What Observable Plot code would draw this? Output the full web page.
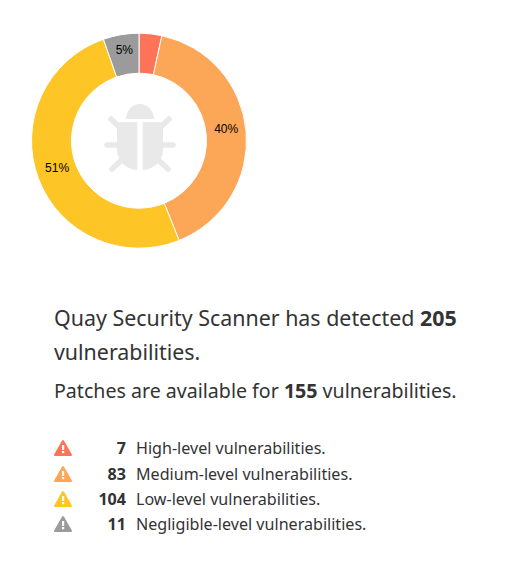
<!DOCTYPE html>
<html><head><meta charset="utf-8">
<script src="https://cdn.jsdelivr.net/npm/d3@7"></script>
<script src="https://cdn.jsdelivr.net/npm/@observablehq/plot@0.6"></script>
<style>
html,body{margin:0;padding:0;background:#fff}
body{width:509px;height:568px;overflow:hidden;position:relative;font-family:"Noto Sans",sans-serif;color:#333}
#chart{position:absolute;left:0;top:0}
.p{position:absolute;left:54px;white-space:nowrap}
.t{font-size:21.4px;line-height:34px;top:301px;width:420px;white-space:normal}
.s{font-size:19.6px;line-height:30px;top:376px}
.r{position:absolute;left:0;height:25px;line-height:25px;font-size:16.1px;white-space:nowrap}
.r svg{position:absolute;left:54px;top:3px}
.r b{position:absolute;left:86px;width:40px;text-align:right}
.r span{position:absolute;left:136px}
</style></head><body>
<div id="chart"></div>
<div class="p t" id="title"></div>
<div class="p s" id="sub"></div>
<div id="rows"></div>
<script>
const levels = ["High","Medium","Low","Negligible"];
const counts = [7, 83, 104, 11];
const colors = ["#ff7358","#fca657","#fdc526","#9b9b9b"];
const total = 205;
const patched = 155;

const table = levels.map((level, i) => ({level, count: counts[i]}));
const arcGen = d3.arc().innerRadius(67.5).outerRadius(107.5);
const cx = 139, cy = 140.7;

function donut(index, scales, values) {
  const g = d3.create("svg:g").attr("transform", `translate(${cx},${cy})`);
  for (const i of index) {
    const a = {startAngle: values.x1[i], endAngle: values.x2[i]};
    g.append("path").attr("d", arcGen(a)).attr("fill", values.fill[i]).attr("stroke", "#fff").attr("stroke-width", 1);
  }
  for (const i of index) {
    const share = table[i].count / total;
    if (share < 0.05) continue;
    const [x, y] = arcGen.centroid({startAngle: values.x1[i], endAngle: values.x2[i]});
    g.append("text").attr("x", x).attr("y", y).attr("text-anchor", "middle")
      .attr("font-family", "Liberation Sans, Arial, sans-serif").attr("font-size", 12).attr("fill", "#000")
      .text(d3.format(".0%")(share));
  }
  const bug = g.append("g").attr("transform", "translate(1,0)").attr("fill", "#e9e9e9").attr("stroke", "none");
  bug.append("path").attr("d", "M-14,-21.7A14,15 0 0 1 14,-21.7Z");
  bug.append("path").attr("d", "M-23,-18.4H-2.7V29.5C-15,28 -23,20 -23,8Z");
  bug.append("path").attr("d", "M23,-18.4H2.7V29.5C15,28 23,20 23,8Z");
  const legs = bug.append("g").attr("stroke", "#e9e9e9").attr("stroke-width", 5.5).attr("stroke-linecap", "round");
  for (const [x1,y1,x2,y2] of [[-29,-21.7,-20,-13],[29,-21.7,20,-13],[-33,4.3,-20,4.3],[33,4.3,20,4.3],[-28,28.3,-17,18],[28,28.3,17,18]])
    legs.append("line").attr("x1",x1).attr("y1",y1).attr("x2",x2).attr("y2",y2);
  return g.node();
}

document.getElementById("chart").append(Plot.plot({
  width: 509, height: 280, margin: 0,
  x: {domain: [0, total], range: [0, 2 * Math.PI], axis: null},
  y: {axis: null},
  color: {domain: levels, range: colors},
  marks: [Plot.barX(table, {x: "count", fill: "level", render: donut})]
}));

document.getElementById("title").innerHTML = `Quay Security Scanner has detected <b>${total}</b> vulnerabilities.`;
document.getElementById("sub").innerHTML = `Patches are available for <b>${patched}</b> vulnerabilities.`;
const tops = [436, 461.5, 487, 512];
const rows = document.getElementById("rows");
levels.forEach((l, i) => {
  const d = document.createElement("div");
  d.className = "r"; d.style.top = tops[i] + "px"; d.style.width = "509px";
  d.innerHTML = `<svg width="18" height="18" viewBox="0 0 18 18"><path d="M9,2L17,16H1Z" fill="${colors[i]}" stroke="${colors[i]}" stroke-width="2" stroke-linejoin="round"/><rect x="8" y="6" width="2.2" height="5" fill="#fff"/><rect x="8" y="12" width="2.2" height="2.2" fill="#fff"/></svg><b>${counts[i]}</b><span>${l}-level vulnerabilities.</span>`;
  rows.append(d);
});
</script>
</body></html>
